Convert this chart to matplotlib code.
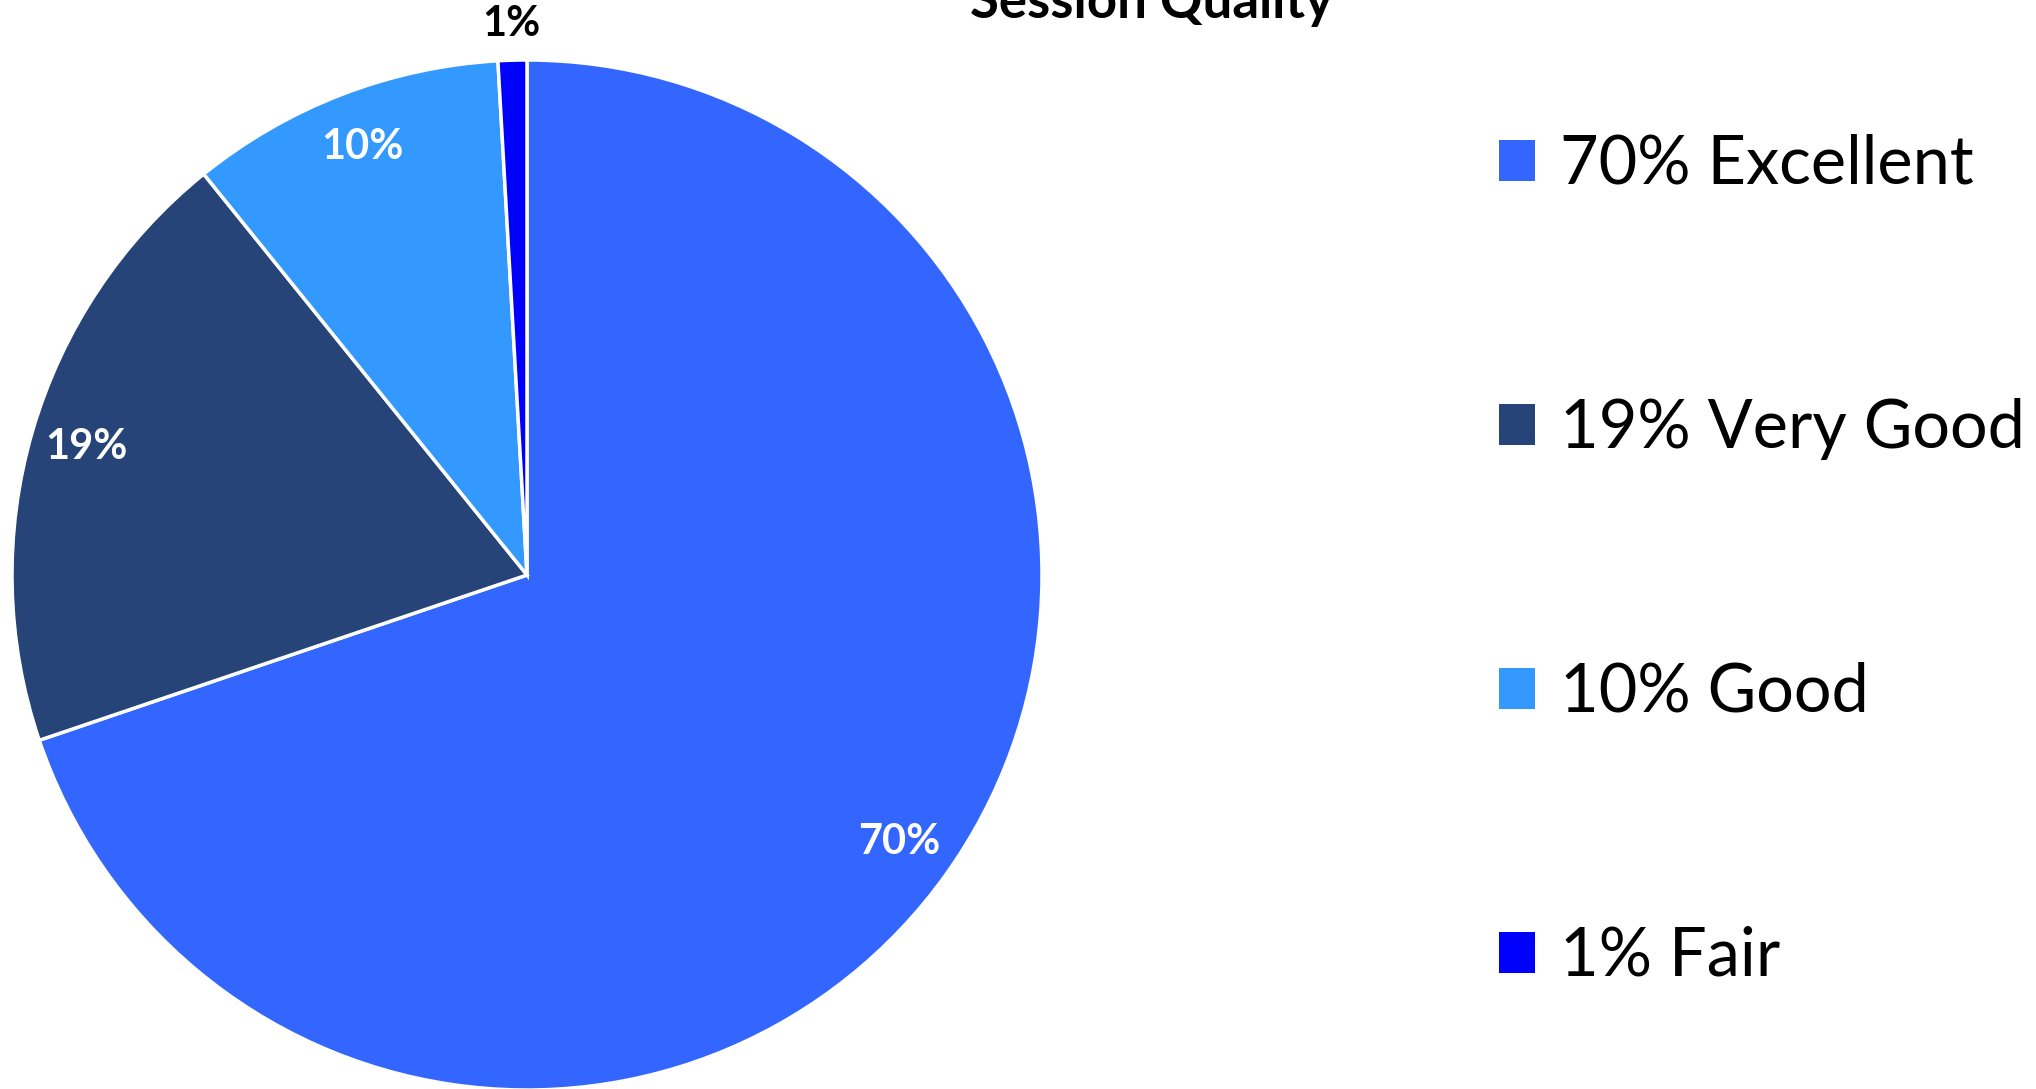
import numpy as np
import matplotlib
matplotlib.use("Agg")
import matplotlib.pyplot as plt
from matplotlib.patches import Rectangle

categories = ["Excellent", "Very Good", "Good", "Fair"]
values = [69.8, 19.4, 9.9, 0.9]
pct_labels = ["70%", "19%", "10%", "1%"]
colors = ["#3366FF", "#264478", "#3399FF", "#0000FF"]
title = "Session Quality"

plt.rcParams['font.family'] = ['Lato', 'DejaVu Sans']

W, H = 2036, 1089
fig = plt.figure(figsize=(W / 100, H / 100), dpi=100)

cx, cy, r = 527, 575, 515
ax = fig.add_axes([(cx - r) / W, (H - cy - r) / H, 2 * r / W, 2 * r / H])
wedges, _ = ax.pie(values, colors=colors, startangle=90, counterclock=False,
                   wedgeprops=dict(edgecolor="white", linewidth=2.5))
ax.set_xlim(-1, 1)
ax.set_ylim(-1, 1)
ax.set_aspect("equal")
ax.axis("off")

for i, w in enumerate(wedges):
    ang = np.deg2rad((w.theta1 + w.theta2) / 2)
    if values[i] < 3:
        d, col = 1.07, "black"
    else:
        d, col = 0.89, "white"
    ax.text(d * np.cos(ang), d * np.sin(ang), pct_labels[i], ha="center", va="center",
            color=col, fontsize=30, fontweight="bold", clip_on=False)

fig.text(1152 / W, 1 - 18 / H, title, ha="center", va="baseline",
         fontsize=38, fontweight="bold")

handles = [Rectangle((0, 0), 1, 1, facecolor=c, edgecolor="none") for c in colors]
leg_labels = [f"{p} {c}" for p, c in zip(pct_labels, categories)]
fig.legend(handles, leg_labels, loc="center left", bbox_to_anchor=(1499 / W, 1 - 561 / H),
           frameon=False, fontsize=48, handlelength=0.54, handleheight=0.56,
           handletextpad=0.38, labelspacing=3.03, borderaxespad=0, borderpad=0)

fig.savefig("out.png", dpi=100)
